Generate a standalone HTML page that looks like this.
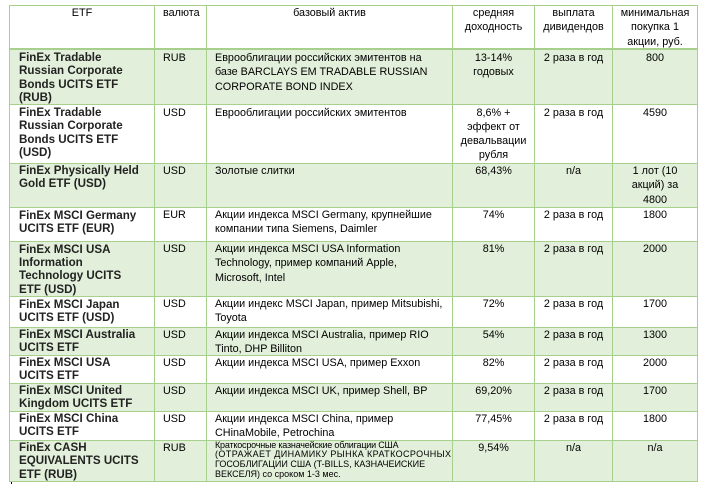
<!DOCTYPE html>
<html><head><meta charset="utf-8">
<style>
html,body{margin:0;padding:0;background:#fff;}
#w{position:relative;width:706px;height:484px;overflow:hidden;background:#fff;}
.g{position:absolute;left:9px;width:689px;background:#e2efda;}
.h{position:absolute;left:9px;width:689px;height:1px;background:#a8d08d;}
.v{position:absolute;top:5px;width:1px;height:477px;background:#a8d08d;}
.t{position:absolute;font-family:"Liberation Sans","DejaVu Sans",sans-serif;font-size:10.8px;line-height:14.3px;white-space:nowrap;color:#000;}
.b{font-weight:bold;font-size:11.6px;line-height:13.4px;color:#222;left:19px;}
.c2{left:163px;}
.c3{left:215px;}
.c4{left:453px;width:81px;text-align:center;}
.c5{left:535px;width:77px;text-align:center;}
.c6{left:613px;width:84px;text-align:center;}
.s{font-size:9px;line-height:9.7px;}
</style></head><body>
<div id="w">
<!-- green fills -->
<div class="g" style="top:50px;height:54px"></div>
<div class="g" style="top:163px;height:44px"></div>
<div class="g" style="top:241px;height:55px"></div>
<div class="g" style="top:327px;height:28px"></div>
<div class="g" style="top:383px;height:28px"></div>
<div class="g" style="top:440px;height:41px"></div>
<!-- horizontal lines -->
<div class="h" style="top:5px"></div>
<div class="h" style="top:48px;height:2px"></div>
<div class="h" style="top:104px"></div>
<div class="h" style="top:163px"></div>
<div class="h" style="top:207px"></div>
<div class="h" style="top:241px"></div>
<div class="h" style="top:296px"></div>
<div class="h" style="top:327px"></div>
<div class="h" style="top:355px"></div>
<div class="h" style="top:383px"></div>
<div class="h" style="top:411px"></div>
<div class="h" style="top:440px"></div>
<div class="h" style="top:481px"></div>
<!-- vertical lines -->
<div class="v" style="left:9px"></div>
<div class="v" style="left:154px"></div>
<div class="v" style="left:206px"></div>
<div class="v" style="left:452px"></div>
<div class="v" style="left:534px"></div>
<div class="v" style="left:612px"></div>
<div class="v" style="left:697px"></div>
<div style="position:absolute;left:11px;top:482px;width:1px;height:2px;background:#000"></div>

<!-- header -->
<div class="t" style="top:6px;left:10px;width:144px;text-align:center">ETF</div>
<div class="t c2" style="top:6px">валюта</div>
<div class="t" style="top:6px;left:207px;width:245px;text-align:center">базовый актив</div>
<div class="t c4" style="top:6px">средняя<br>доходность</div>
<div class="t c5" style="top:6px">выплата<br>дивидендов</div>
<div class="t c6" style="top:6px">минимальная<br>покупка 1<br>акции, руб.</div>

<!-- row 1 -->
<div class="t b" style="top:51px">FinEx Tradable<br>Russian Corporate<br>Bonds UCITS ETF<br>(RUB)</div>
<div class="t c2" style="top:51px">RUB</div>
<div class="t c3" style="top:51px">Еврооблигации российских эмитентов на<br>базе BARCLAYS EM TRADABLE RUSSIAN<br>CORPORATE BOND INDEX</div>
<div class="t c4" style="top:51px">13-14%<br>годовых</div>
<div class="t c5" style="top:51px">2 раза в год</div>
<div class="t c6" style="top:51px">800</div>

<!-- row 2 -->
<div class="t b" style="top:106px">FinEx Tradable<br>Russian Corporate<br>Bonds UCITS ETF<br>(USD)</div>
<div class="t c2" style="top:105.5px">USD</div>
<div class="t c3" style="top:105.5px">Еврооблигации российских эмитентов</div>
<div class="t c4" style="top:105.5px">8,6% +<br>эффект от<br>девальвации<br>рубля</div>
<div class="t c5" style="top:105.5px">2 раза в год</div>
<div class="t c6" style="top:105.5px">4590</div>

<!-- row 3 -->
<div class="t b" style="top:164px">FinEx Physically Held<br>Gold ETF (USD)</div>
<div class="t c2" style="top:164px">USD</div>
<div class="t c3" style="top:164px">Золотые слитки</div>
<div class="t c4" style="top:164px">68,43%</div>
<div class="t c5" style="top:164px">n/a</div>
<div class="t c6" style="top:164px">1 лот (10<br>акций) за<br>4800</div>

<!-- row 4 -->
<div class="t b" style="top:208.5px">FinEx MSCI Germany<br>UCITS ETF (EUR)</div>
<div class="t c2" style="top:208px">EUR</div>
<div class="t c3" style="top:208px">Акции индекса MSCI Germany, крупнейшие<br>компании типа Siemens, Daimler</div>
<div class="t c4" style="top:208px">74%</div>
<div class="t c5" style="top:208px">2 раза в год</div>
<div class="t c6" style="top:208px">1800</div>

<!-- row 5 -->
<div class="t b" style="top:242.5px">FinEx MSCI USA<br>Information<br>Technology UCITS<br>ETF (USD)</div>
<div class="t c2" style="top:242px">USD</div>
<div class="t c3" style="top:242px">Акции индекса MSCI USA Information<br>Technology, пример компаний Apple,<br>Microsoft, Intel</div>
<div class="t c4" style="top:242px">81%</div>
<div class="t c5" style="top:242px">2 раза в год</div>
<div class="t c6" style="top:242px">2000</div>

<!-- row 6 -->
<div class="t b" style="top:297.5px">FinEx MSCI Japan<br>UCITS ETF (USD)</div>
<div class="t c2" style="top:297px">USD</div>
<div class="t c3" style="top:297px">Акции индекс MSCI Japan, пример Mitsubishi,<br>Toyota</div>
<div class="t c4" style="top:297px">72%</div>
<div class="t c5" style="top:297px">2 раза в год</div>
<div class="t c6" style="top:297px">1700</div>

<!-- row 7 -->
<div class="t b" style="top:328px">FinEx MSCI Australia<br>UCITS ETF</div>
<div class="t c2" style="top:327.5px">USD</div>
<div class="t c3" style="top:327.5px">Акции индекса MSCI Australia, пример RIO<br>Tinto, DHP Billiton</div>
<div class="t c4" style="top:327.5px">54%</div>
<div class="t c5" style="top:327.5px">2 раза в год</div>
<div class="t c6" style="top:327.5px">1300</div>

<!-- row 8 -->
<div class="t b" style="top:356px">FinEx MSCI USA<br>UCITS ETF</div>
<div class="t c2" style="top:356px">USD</div>
<div class="t c3" style="top:356px">Акции индекса MSCI USA, пример Exxon</div>
<div class="t c4" style="top:356px">82%</div>
<div class="t c5" style="top:356px">2 раза в год</div>
<div class="t c6" style="top:356px">2000</div>

<!-- row 9 -->
<div class="t b" style="top:384px">FinEx MSCI United<br>Kingdom UCITS ETF</div>
<div class="t c2" style="top:384px">USD</div>
<div class="t c3" style="top:384px">Акции индекса MSCI UK, пример Shell, BP</div>
<div class="t c4" style="top:384px">69,20%</div>
<div class="t c5" style="top:384px">2 раза в год</div>
<div class="t c6" style="top:384px">1700</div>

<!-- row 10 -->
<div class="t b" style="top:412px">FinEx MSCI China<br>UCITS ETF</div>
<div class="t c2" style="top:412px">USD</div>
<div class="t c3" style="top:412px">Акции индекса MSCI China, пример<br>CHinaMobile, Petrochina</div>
<div class="t c4" style="top:412px">77,45%</div>
<div class="t c5" style="top:412px">2 раза в год</div>
<div class="t c6" style="top:412px">1800</div>

<!-- row 11 -->
<div class="t b" style="top:441px">FinEx CASH<br>EQUIVALENTS UCITS<br>ETF (RUB)</div>
<div class="t c2" style="top:441px">RUB</div>
<div class="t c3 s" style="top:440.5px"><span style="letter-spacing:-0.2px">Краткосрочные казначейские облигации США</span><br><span style="letter-spacing:0.4px">(ОТРАЖАЕТ ДИНАМИКУ РЫНКА КРАТКОСРОЧНЫХ</span><br>ГОСОБЛИГАЦИИ США (T-BILLS, КАЗНАЧЕИСКИЕ<br>ВЕКСЕЛЯ) со сроком 1-3 мес.</div>
<div class="t c4" style="top:441px">9,54%</div>
<div class="t c5" style="top:441px">n/a</div>
<div class="t c6" style="top:441px">n/a</div>
</div>
</body></html>
